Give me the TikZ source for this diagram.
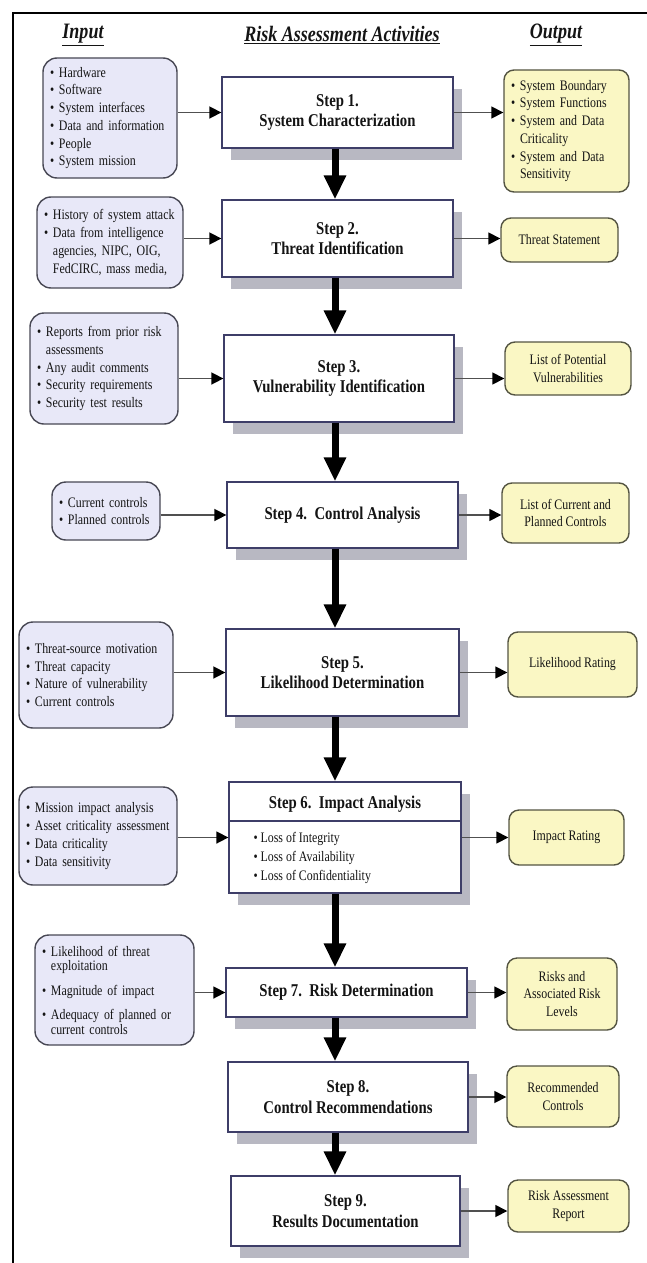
\documentclass[tikz,border=0pt]{standalone}
\usepackage{fontspec}
\setmainfont[FakeStretch=0.82]{Liberation Serif}
\usepackage{xcolor}
\definecolor{inputfill}{RGB}{232,232,248}
\definecolor{inputline}{RGB}{72,72,84}
\definecolor{outputfill}{RGB}{250,247,196}
\definecolor{outputline}{RGB}{84,84,66}
\definecolor{stepline}{RGB}{62,62,104}
\definecolor{shade}{RGB}{184,184,194}
\definecolor{ink}{RGB}{20,20,20}
\definecolor{wire}{RGB}{80,80,80}
\usetikzlibrary{arrows.meta, shadows, calc}

\newcommand{\itm}{\textbullet\ }
\newcommand{\cnt}{\phantom{\textbullet\ }}

\begin{document}
\begin{tikzpicture}[x=1pt, y=-1pt,
        heading/.style={font=\fontsize{22}{26}\selectfont\bfseries\itshape, text=ink},
        inbox/.style={rectangle, rounded corners=14pt, draw=inputline, line width=1.4pt, fill=inputfill, inner xsep=7pt, inner ysep=0pt, align=left, font=\fontsize{14.5}{17.7}\selectfont, text=ink},
        stepbox/.style={rectangle, draw=stepline, line width=1.3pt, fill=white, inner sep=0pt, align=center, font=\fontsize{18}{20.5}\selectfont\bfseries, text=ink, drop shadow={shadow xshift=9pt, shadow yshift=-12pt, fill=shade, opacity=1}},
        outbox/.style={rectangle, rounded corners=10pt, draw=outputline, line width=1.4pt, fill=outputfill, inner sep=0pt, align=center, font=\fontsize{14.5}{17.7}\selectfont, text=ink},
        link/.style={-{Triangle[length=12pt, width=12pt, black]}, line width=1.6pt, draw=wire},
        flow/.style={-{Triangle[length=24pt, width=21pt]}, line width=7pt, draw=black},
        frame/.style={line width=2pt, draw=black}
    ]
        \useasboundingbox (0,0) rectangle (647,1263);
        \draw[frame] (13,1263) -- (13,13) -- (647,13);

        \node[heading] (hin) at (83,35) {\underline{Input}};
        \node[heading] (hact) at (342,35) {\underline{Risk Assessment Activities}};
        \node[heading] (hout) at (556,35) {\underline{Output}};

        % activities
        \node[stepbox, minimum width=231pt, minimum height=71pt] (s1) at (337.5,112.5) {Step 1.\\ System Characterization};
        \node[stepbox, minimum width=231pt, minimum height=77pt] (s2) at (337.5,238.5) {Step 2.\\ Threat Identification};
        \node[stepbox, minimum width=230pt, minimum height=87pt] (s3) at (339,378.5) {Step 3.\\ Vulnerability Identification};
        \node[stepbox, minimum width=231pt, minimum height=66pt] (s4) at (342.5,515) {Step 4.\ \ Control Analysis};
        \node[stepbox, minimum width=233pt, minimum height=87pt] (s5) at (342.5,672.5) {Step 5.\\ Likelihood Determination};
        \node[stepbox, minimum width=232pt, minimum height=111pt] (s6) at (345,837.5) {};
        \node[font=\fontsize{18}{20.5}\selectfont\bfseries, text=ink] (s6title) at (345,804) {Step 6.\ \ Impact Analysis};
        \coordinate (s6cut) at (0,821);
        \draw[stepline, line width=1.1pt] (s6.west |- s6cut) -- (s6.east |- s6cut);
        \node[anchor=west, align=left, font=\fontsize{14.5}{19}\selectfont, text=ink] (s6list) at (250,858) {\itm Loss of Integrity\\ \itm Loss of Availability\\ \itm Loss of Confidentiality};
        \node[stepbox, minimum width=241pt, minimum height=49pt] (s7) at (346.5,992.5) {Step 7.\ \ Risk Determination};
        \node[stepbox, minimum width=240pt, minimum height=70pt] (s8) at (348,1097) {Step 8.\\ Control Recommendations};
        \node[stepbox, minimum width=229pt, minimum height=70pt] (s9) at (345.5,1211) {Step 9.\\ Results Documentation};

        % inputs
        \node[inbox, text width=120pt, minimum height=120pt] (in1) at (110,118) {\itm Hardware\\ \itm Software\\ \itm System interfaces\\ \itm Data and information\\ \itm People\\ \itm System mission};
        \node[inbox, text width=132pt, minimum height=91pt] (in2) at (110,242.5) {\itm History of system attack\\ \itm Data from intelligence\\ \cnt agencies, NIPC, OIG,\\ \cnt FedCIRC, mass media,};
        \node[inbox, text width=134pt, minimum height=111pt] (in3) at (104,368.5) {\itm Reports from prior risk\\ \cnt assessments\\ \itm Any audit comments\\ \itm Security requirements\\ \itm Security test results};
        \node[inbox, text width=94pt, minimum height=58pt] (in4) at (106,511) {\itm Current controls\\ \itm Planned controls};
        \node[inbox, text width=140pt, minimum height=106pt] (in5) at (96,675) {\itm Threat-source motivation\\ \itm Threat capacity\\ \itm Nature of vulnerability\\ \itm Current controls};
        \node[inbox, text width=144pt, minimum height=98pt] (in6) at (98,836) {\itm Mission impact analysis\\ \itm Asset criticality assessment\\ \itm Data criticality\\ \itm Data sensitivity};
        \node[inbox, text width=145pt, minimum height=110pt, font=\fontsize{14.5}{14.5}\selectfont] (in7) at (114.5,990) {\itm Likelihood of threat\\ \cnt exploitation\\[10pt] \itm Magnitude of impact\\[10pt] \itm Adequacy of planned or\\ \cnt current controls};

        % outputs
        \node[outbox, align=left, inner xsep=7pt, text width=111pt, minimum height=122pt] (out1) at (566.5,131) {\itm System Boundary\\ \itm System Functions\\ \itm System and Data\\ \cnt Criticality\\ \itm System and Data\\ \cnt Sensitivity};
        \node[outbox, minimum width=117pt, minimum height=44pt] (out2) at (559.5,240) {Threat Statement};
        \node[outbox, minimum width=126pt, minimum height=53pt] (out3) at (568,368.5) {List of Potential\\ Vulnerabilities};
        \node[outbox, minimum width=127pt, minimum height=60pt] (out4) at (565.5,513) {List of Current and\\ Planned Controls};
        \node[outbox, minimum width=129pt, minimum height=65pt] (out5) at (572.5,664.5) {Likelihood Rating};
        \node[outbox, minimum width=115pt, minimum height=55pt] (out6) at (566.5,837.5) {Impact Rating};
        \node[outbox, minimum width=110pt, minimum height=72pt] (out7) at (562,994) {Risks and\\ Associated Risk\\ Levels};
        \node[outbox, minimum width=112pt, minimum height=61pt] (out8) at (563,1096.5) {Recommended\\ Controls};
        \node[outbox, minimum width=121pt, minimum height=52pt] (out9) at (568.5,1206) {Risk Assessment\\ Report};

        % main flow
        \coordinate (axis) at (335,0);
        \foreach \a/\b in {s1/s2, s2/s3, s3/s4, s4/s5, s5/s6, s6/s7, s7/s8, s8/s9}
            \draw[flow] (\a.south -| axis) -- (\b.north -| axis);

        % inputs and outputs
        \foreach \i in {1,...,7}
            \draw[link] (in\i.east |- s\i) -- (s\i.west);
        \foreach \i in {1,...,9}
            \draw[link] (s\i.east) -- (s\i.east -| out\i.west);
\end{tikzpicture}
\end{document}
